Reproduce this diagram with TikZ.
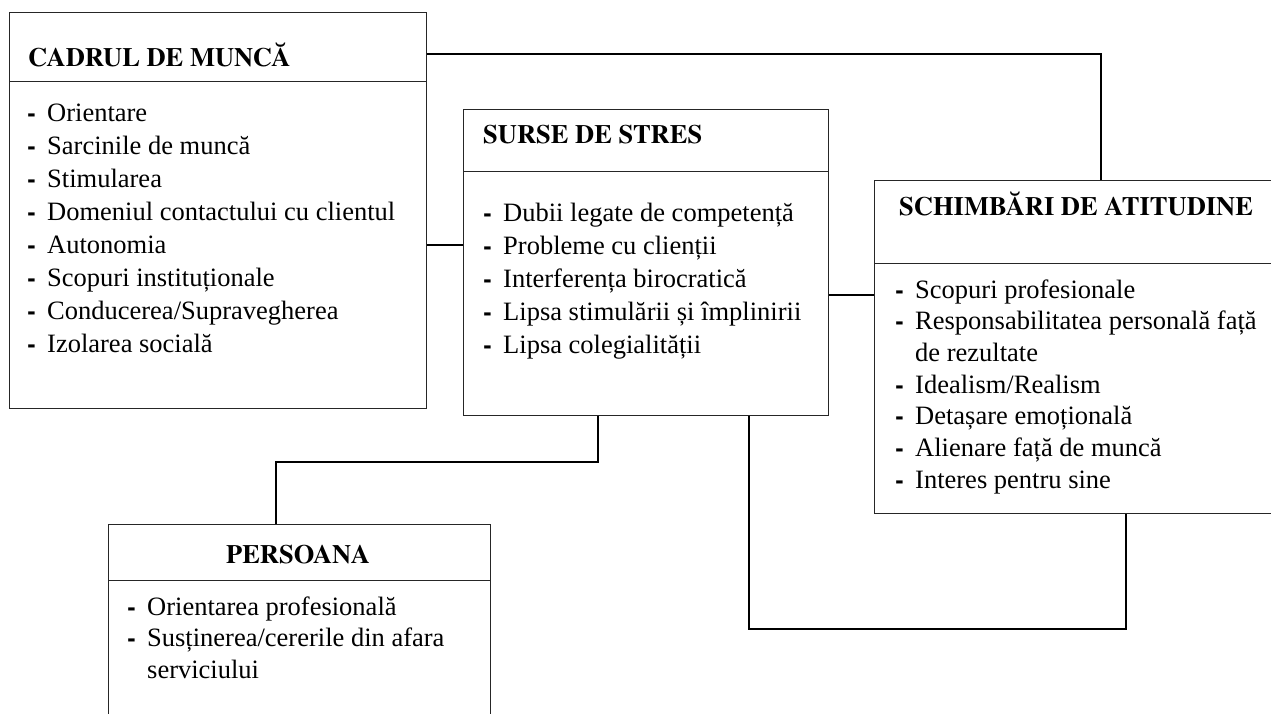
\documentclass[tikz,border=0pt]{standalone}
\usepackage{fontspec}
\setmainfont{Liberation Serif}
\newfontfamily\ttlfont{TeX Gyre Termes}
\newcommand\itm[1]{\makebox[20pt][l]{{\ttlfont\bfseries -}}#1\par}
\newcommand\cont[1]{\hspace*{20pt}#1\par}
\tikzset{
  box/.style={draw=black!85, line width=0.9pt, rectangle, inner sep=0pt, anchor=north west},
  divline/.style={draw=black!85, line width=0.9pt},
  conn/.style={draw=black, line width=1.5pt},
  ttl/.style={inner sep=0pt},
  txt/.style={inner sep=0pt, anchor=base west}
}
\newcommand\ttltext[1]{{\fontsize{26.5}{33}\ttlfont\bfseries #1}}
\begin{document}
\begin{tikzpicture}[x=1pt,y=-1pt]
\useasboundingbox (0,0) rectangle (1271,713);
\clip (0,0) rectangle (1271,713);
\fill[white] (0,0) rectangle (1271,713);
% boxes
\node[box, minimum width=417pt, minimum height=396pt] (cadru) at (9,12) {};
\node[box, minimum width=365pt, minimum height=306pt] (surse) at (463,109) {};
\node[box, minimum width=420pt, minimum height=333pt] (schimb) at (874,180) {};
\node[box, minimum width=382pt, minimum height=230pt] (pers) at (108,524) {};
% dividers
\draw[divline] (cadru.west |- 0,81) -- (cadru.east |- 0,81);
\draw[divline] (surse.west |- 0,171) -- (surse.east |- 0,171);
\draw[divline] (schimb.west |- 0,263) -- (schimb.east |- 0,263);
\draw[divline] (pers.west |- 0,580) -- (pers.east |- 0,580);
% titles
\node[ttl, anchor=base west] (tcadru) at (28,66) {\ttltext{CADRUL DE MUNCĂ}};
\node[ttl, anchor=base west] (tsurse) at (483,143) {\ttltext{SURSE DE STRES}};
\node[ttl, anchor=base west] (tschimb) at (899,215) {\ttltext{SCHIMBĂRI DE ATITUDINE}};
\node[ttl, anchor=base] (tpers) at (298,563) {\ttltext{PERSOANA}};
% items
\node[txt] (icadru) at (27,121) {\parbox[t]{395pt}{\fontsize{26.5}{33.1}\selectfont\raggedright
\itm{Orientare}
\itm{Sarcinile de muncă}
\itm{Stimularea}
\itm{Domeniul contactului cu clientul}
\itm{Autonomia}
\itm{Scopuri instituționale}
\itm{Conducerea/Supravegherea}
\itm{Izolarea socială}}};
\node[txt] (isurse) at (483,221) {\parbox[t]{345pt}{\fontsize{26.5}{33.1}\selectfont\raggedright
\itm{Dubii legate de competență}
\itm{Probleme cu clienții}
\itm{Interferența birocratică}
\itm{Lipsa stimulării și împlinirii}
\itm{Lipsa colegialității}}};
\node[txt] (ischimb) at (895,298) {\parbox[t]{400pt}{\fontsize{26.5}{31.7}\selectfont\raggedright
\itm{Scopuri profesionale}
\itm{Responsabilitatea personală față}
\cont{de rezultate}
\itm{Idealism/Realism}
\itm{Detașare emoțională}
\itm{Alienare față de muncă}
\itm{Interes pentru sine}}};
\node[txt] (ipers) at (127,615) {\parbox[t]{360pt}{\fontsize{26.5}{31.5}\selectfont\raggedright
\itm{Orientarea profesională}
\itm{Susținerea/cererile din afara}
\cont{serviciului}}};
% connectors
\draw[conn] (cadru.east |- 0,54) -- (1101,54) -- (schimb.north -| 1101,0);
\draw[conn] (cadru.east |- 0,245) -- (surse.west |- 0,245);
\draw[conn] (surse.east |- 0,295) -- (schimb.west |- 0,295);
\draw[conn] (surse.south -| 598,0) -- (598,462) -- (276,462) -- (pers.north -| 276,0);
\draw[conn] (schimb.south -| 1126,0) -- (1126,629) -- (749,629) -- (surse.south -| 749,0);
\end{tikzpicture}
\end{document}
